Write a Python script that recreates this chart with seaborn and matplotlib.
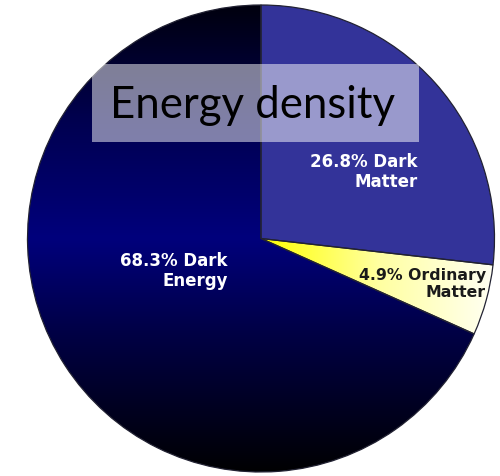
import numpy as np
import matplotlib
matplotlib.use("Agg")
import matplotlib.pyplot as plt
from matplotlib.colors import LinearSegmentedColormap
from matplotlib.patches import Rectangle
import seaborn as sns

# Composition of the universe's energy density (percent)
components = ["Dark Matter", "Ordinary Matter", "Dark Energy"]
shares = [26.8, 4.9, 68.3]
label_lines = ["26.8% Dark\nMatter", "4.9% Ordinary\nMatter", "68.3% Dark\nEnergy"]
title_text = "Energy density"

sns.set_theme(style="white")
plt.rcParams["font.family"] = ["DejaVu Sans"]

W, H, DPI = 500, 476, 100
fig = plt.figure(figsize=(W / DPI, H / DPI), dpi=DPI)
ax = fig.add_axes([0, 0, 1, 1])

# pie centre and radius in pixels -> data limits with radius 1
cx, cy, R = 261, 238.5, 233.5
xlim = (-cx / R, (W - cx) / R)
ylim = (-(H - cy) / R, cy / R)

wedges, _ = ax.pie(shares, startangle=90, counterclock=False, radius=1,
                   center=(0, 0), frame=True,
                   wedgeprops=dict(linewidth=0.9, edgecolor="#222233"))

# flat fill for dark matter
wedges[0].set_facecolor("#333399")

# horizontal yellow-to-white gradient for ordinary matter
yellow = LinearSegmentedColormap.from_list("ym", ["#ffff00", "#ffffa0", "#fffff4"])
grad_x = np.linspace(0, 1, 256).reshape(1, -1)
wedges[1].set_facecolor("none")
im1 = ax.imshow(grad_x, cmap=yellow, extent=[0, 1, -1, 1], aspect="auto",
                origin="lower", zorder=wedges[1].get_zorder() - 0.1,
                interpolation="bicubic")
im1.set_clip_path(wedges[1])

# vertical navy gradient for dark energy
navy = LinearSegmentedColormap.from_list(
    "de", [(0.0, "#000002"), (0.3, "#000046"), (0.5, "#00007c"),
           (0.75, "#000050"), (1.0, "#00000e")])
grad_y = np.linspace(0, 1, 256).reshape(-1, 1)
wedges[2].set_facecolor("none")
im2 = ax.imshow(grad_y, cmap=navy, extent=[-1, 1, -1, 1], aspect="auto",
                origin="lower", zorder=wedges[2].get_zorder() - 0.1,
                interpolation="bicubic")
im2.set_clip_path(wedges[2])

ax.set_xlim(*xlim)
ax.set_ylim(*ylim)
ax.set_aspect("equal")
ax.axis("off")

# slice labels
def px(x, y):
    return (x - cx) / R, (cy - y) / R

label_pos = [px(418, 172), px(486, 284), px(228, 271)]
label_col = ["white", "#1a1a1a", "white"]
label_size = [12, 11.3, 12]
for txt, (x, y), col, fs in zip(label_lines, label_pos, label_col, label_size):
    ax.text(x, y, txt, ha="right", va="center", multialignment="right",
            color=col, fontsize=fs, fontweight="bold", linespacing=1.1,
            zorder=5)

# translucent title banner
fig.patches.append(Rectangle((92 / W, 1 - 142 / H), 327 / W, 78 / H,
                             transform=fig.transFigure, facecolor="white",
                             alpha=0.5, edgecolor="none", zorder=10))
fig.text(252.5 / W, 1 - 118 / H, title_text, ha="center", va="baseline",
         fontsize=31.5, family=["Lato", "DejaVu Sans"], color="black", zorder=11)

fig.savefig("out.png", dpi=DPI)
